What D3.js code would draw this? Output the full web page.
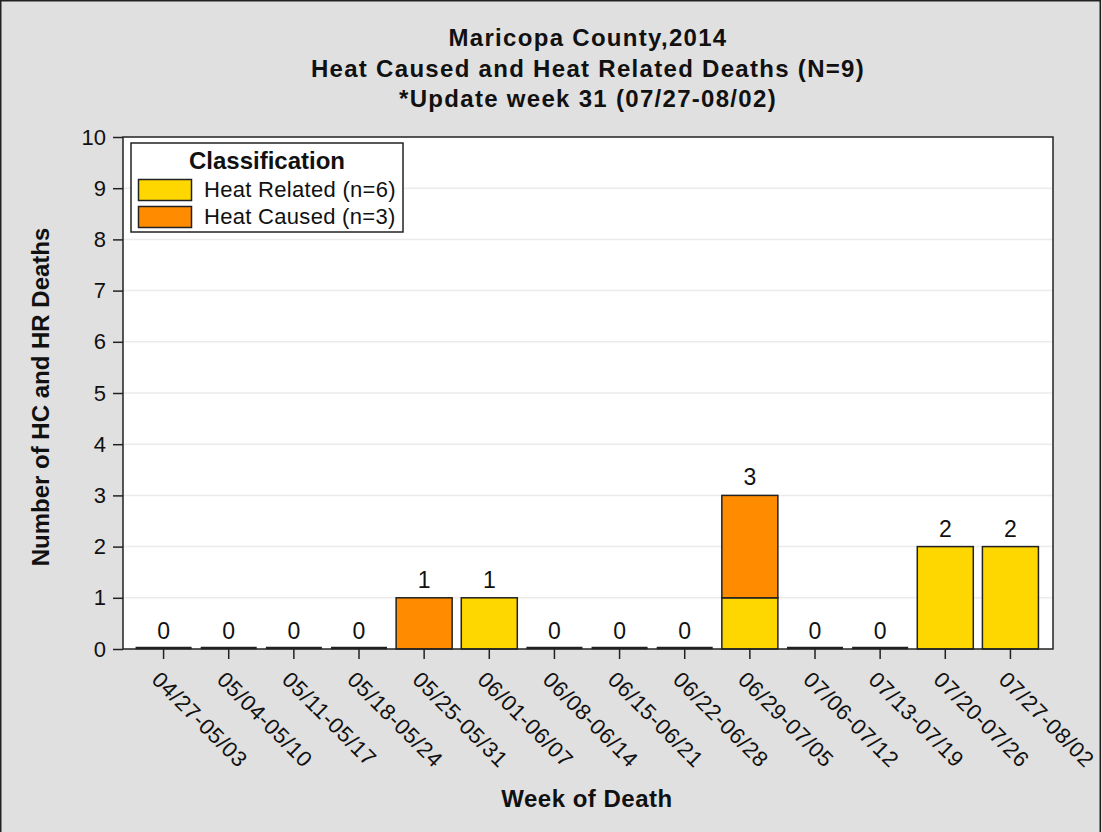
<!DOCTYPE html>
<html>
<head>
<meta charset="utf-8">
<script src="https://cdn.jsdelivr.net/npm/d3@7"></script>
<style>
body { margin: 0; background: #e0e0e0; }
svg { display: block; font-family: "Liberation Sans", Arial, sans-serif; }
</style>
</head>
<body>
<svg width="1102" height="832"></svg>
<script>
// Weekly counts
const weeks = ["04/27-05/03", "05/04-05/10", "05/11-05/17", "05/18-05/24", "05/25-05/31",
    "06/01-06/07", "06/08-06/14", "06/15-06/21", "06/22-06/28", "06/29-07/05",
    "07/06-07/12", "07/13-07/19", "07/20-07/26", "07/27-08/02"];
const heatRelated = [0, 0, 0, 0, 0, 1, 0, 0, 0, 1, 0, 0, 2, 2];
const heatCaused  = [0, 0, 0, 0, 1, 0, 0, 0, 0, 2, 0, 0, 0, 0];
const seriesNames = ["Heat Related (n=6)", "Heat Caused (n=3)"];
const seriesColors = ["#ffd700", "#ff8c00"];
const yTicks = d3.range(0, 11);
const titles = ["Maricopa County,2014", "Heat Caused and Heat Related Deaths (N=9)", "*Update week 31 (07/27-08/02)"];

const svg = d3.select("svg");
const W = 1102, H = 832;
const ink = "#111";

svg.append("rect").attr("x", 0.75).attr("y", 0.75).attr("width", W - 2.5).attr("height", H + 5)
    .attr("fill", "#e0e0e0").attr("stroke", "#222").attr("stroke-width", 1.5);

// plot frame
const frame = { left: 123, right: 1053, top: 137, bottom: 649 };

const x = d3.scaleBand().domain(weeks).range([131, 1043]).paddingInner(0.14).paddingOuter(0.07);
const y = d3.scaleLinear().domain([0, 10]).range([frame.bottom, frame.top]);

svg.append("rect")
    .attr("x", frame.left).attr("y", frame.top)
    .attr("width", frame.right - frame.left).attr("height", frame.bottom - frame.top)
    .attr("fill", "#fff");

// grid lines
svg.append("g").selectAll("line").data(yTicks.filter(d => d > 0 && d < 10)).enter().append("line")
    .attr("x1", frame.left).attr("x2", frame.right)
    .attr("y1", d => y(d)).attr("y2", d => y(d))
    .attr("stroke", "#ebebeb").attr("stroke-width", 1.5);

// stacked bars
const rows = weeks.map((w, i) => ({ week: w, related: heatRelated[i], caused: heatCaused[i] }));
const stack = d3.stack().keys(["related", "caused"])(rows);

const barG = svg.append("g");
stack.forEach((layer, k) => {
    barG.selectAll(".b" + k).data(layer.filter(d => d[1] > d[0])).enter().append("rect")
        .attr("x", d => x(d.data.week))
        .attr("width", x.bandwidth())
        .attr("y", d => y(d[1]))
        .attr("height", d => y(d[0]) - y(d[1]))
        .attr("fill", seriesColors[k])
        .attr("stroke", "#222").attr("stroke-width", 1.5);
});

// zero bars drawn as flat line at baseline
barG.selectAll(".zero").data(rows.filter(d => d.related + d.caused === 0)).enter().append("line")
    .attr("x1", d => x(d.week)).attr("x2", d => x(d.week) + x.bandwidth())
    .attr("y1", y(0) - 1).attr("y2", y(0) - 1)
    .attr("stroke", "#222").attr("stroke-width", 2.5);

// totals
svg.append("g").selectAll("text").data(rows).enter().append("text")
    .attr("x", d => x(d.week) + x.bandwidth() / 2)
    .attr("y", d => y(d.related + d.caused) - 10)
    .attr("text-anchor", "middle")
    .attr("font-size", 23)
    .attr("fill", ink)
    .text(d => d.related + d.caused);

// frame border
svg.append("rect")
    .attr("x", frame.left).attr("y", frame.top)
    .attr("width", frame.right - frame.left).attr("height", frame.bottom - frame.top)
    .attr("fill", "none").attr("stroke", "#222").attr("stroke-width", 1.5);

// y axis
const yAxis = svg.append("g").attr("transform", `translate(${frame.left},0)`)
    .call(d3.axisLeft(y).tickValues(yTicks).tickSize(10).tickPadding(7));
yAxis.select(".domain").remove();
yAxis.selectAll("line").attr("stroke", "#222").attr("stroke-width", 1.5);
yAxis.selectAll("text").attr("font-size", 22).attr("fill", ink)
    .attr("font-family", "Liberation Sans, Arial, sans-serif");

// x axis
const xAxis = svg.append("g").attr("transform", `translate(0,${frame.bottom})`)
    .call(d3.axisBottom(x).tickSize(10).tickSizeOuter(0));
xAxis.select(".domain").remove();
xAxis.selectAll("line").attr("stroke", "#222").attr("stroke-width", 1.5);
xAxis.selectAll("text")
    .attr("font-size", 22).attr("fill", ink)
    .attr("letter-spacing", 0.6)
    .attr("font-family", "Liberation Sans, Arial, sans-serif")
    .attr("text-anchor", "start")
    .attr("y", 0).attr("dy", 0)
    .attr("transform", "translate(-13,32) rotate(45)");

// titles
svg.append("g").selectAll("text").data(titles).enter().append("text")
    .attr("x", 588).attr("y", (d, i) => 46 + i * 30.5)
    .attr("text-anchor", "middle").attr("font-size", 24).attr("font-weight", "bold")
    .attr("letter-spacing", 1.3)
    .attr("fill", ink)
    .text(d => d);

svg.append("text")
    .attr("transform", `translate(49,397) rotate(-90)`)
    .attr("text-anchor", "middle").attr("font-size", 24).attr("font-weight", "bold")
    .attr("fill", ink)
    .text("Number of HC and HR Deaths");

svg.append("text")
    .attr("x", 587).attr("y", 807)
    .attr("text-anchor", "middle").attr("font-size", 24).attr("font-weight", "bold")
    .attr("letter-spacing", 0.5)
    .attr("fill", ink)
    .text("Week of Death");

// legend
const lg = svg.append("g").attr("transform", "translate(131,143)");
lg.append("rect").attr("width", 272).attr("height", 89)
    .attr("fill", "#fff").attr("stroke", "#222").attr("stroke-width", 1.5);
lg.append("text").attr("x", 136).attr("y", 26).attr("text-anchor", "middle")
    .attr("font-size", 24).attr("font-weight", "bold").attr("fill", ink).text("Classification");
seriesNames.forEach((name, i) => {
    lg.append("rect").attr("x", 7.5).attr("y", 36.5 + i * 27).attr("width", 53).attr("height", 21)
        .attr("fill", seriesColors[i]).attr("stroke", "#222").attr("stroke-width", 1.5);
    lg.append("text").attr("x", 73).attr("y", 54 + i * 27)
        .attr("font-size", 22).attr("letter-spacing", 0.3).attr("fill", ink).text(name);
});
</script>
</body>
</html>
